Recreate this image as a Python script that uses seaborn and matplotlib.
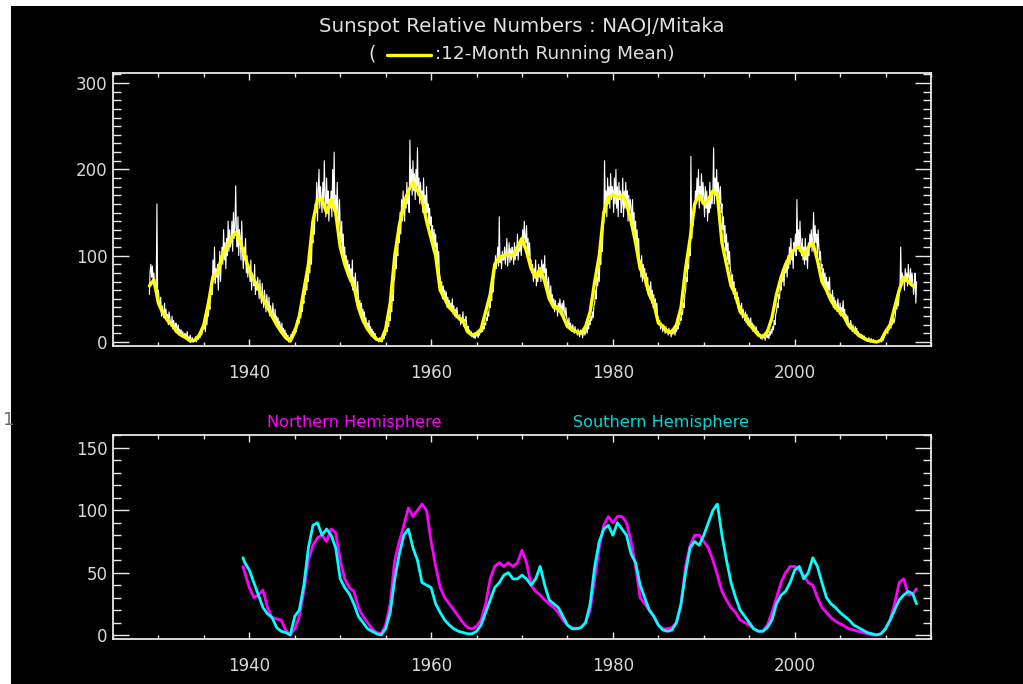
import numpy as np
import pandas as pd
import matplotlib
matplotlib.use("Agg")
import matplotlib.pyplot as plt
import seaborn as sns
from matplotlib.ticker import MultipleLocator
from matplotlib.patches import Rectangle

sns.set_style("dark")
plt.rcParams['font.family'] = ['DejaVu Sans']

# Monthly relative sunspot numbers (white), one row per year from 1929
monthly_start = 1929
monthly_rows = [
    [55, 82, 90, 75, 88, 68, 80, 62, 70, 58, 160, 48],
    [60, 45, 40, 52, 30, 42, 35, 28, 45, 30, 38, 25],
    [32, 20, 35, 28, 22, 18, 30, 15, 25, 20, 12, 22],
    [18, 12, 20, 8, 15, 10, 14, 6, 12, 9, 5, 10],
    [8, 5, 12, 3, 6, 2, 8, 4, 1, 5, 0, 3],
    [2, 6, 0, 4, 8, 3, 10, 5, 14, 8, 12, 18],
    [15, 22, 12, 28, 20, 35, 30, 45, 38, 60, 70, 55],
    [95, 72, 110, 68, 85, 75, 90, 60, 80, 105, 70, 95],
    [110, 90, 130, 95, 115, 85, 120, 100, 140, 105, 130, 110],
    [115, 140, 105, 150, 120, 135, 181, 125, 110, 145, 100, 130],
    [120, 95, 140, 105, 85, 110, 95, 120, 80, 100, 75, 90],
    [85, 70, 95, 60, 80, 75, 65, 90, 55, 70, 60, 75],
    [65, 50, 72, 55, 45, 68, 50, 40, 60, 48, 35, 55],
    [45, 38, 52, 30, 42, 35, 28, 45, 32, 25, 38, 22],
    [30, 20, 28, 15, 24, 18, 12, 22, 10, 16, 8, 14],
    [6, 10, 2, 8, 0, 5, 3, 9, 4, 12, 6, 15],
    [10, 18, 12, 25, 20, 30, 22, 38, 28, 45, 35, 52],
    [45, 62, 55, 75, 60, 85, 70, 95, 80, 110, 90, 120],
    [115, 140, 125, 160, 150, 185, 140, 175, 200, 155, 180, 165],
    [150, 185, 160, 210, 170, 145, 190, 160, 175, 140, 165, 155],
    [175, 145, 200, 160, 220, 150, 170, 140, 185, 150, 130, 165],
    [135, 115, 140, 100, 125, 95, 110, 85, 100, 80, 95, 75],
    [90, 70, 85, 65, 95, 60, 75, 55, 80, 60, 50, 70],
    [55, 40, 48, 35, 45, 30, 38, 25, 35, 20, 28, 18],
    [22, 15, 25, 12, 18, 10, 15, 8, 12, 5, 10, 4],
    [6, 2, 4, 0, 5, 1, 3, 0, 2, 6, 4, 10],
    [8, 15, 12, 22, 18, 30, 25, 42, 35, 55, 48, 70],
    [75, 95, 85, 110, 100, 130, 115, 150, 125, 165, 140, 175],
    [150, 140, 170, 155, 185, 160, 175, 150, 234, 180, 200, 170],
    [210, 175, 195, 165, 200, 180, 225, 170, 190, 160, 185, 165],
    [175, 150, 190, 160, 170, 140, 180, 150, 160, 130, 155, 135],
    [145, 120, 135, 105, 130, 110, 125, 95, 115, 90, 105, 80],
    [75, 60, 70, 50, 65, 55, 60, 45, 58, 40, 52, 45],
    [48, 38, 45, 35, 50, 32, 42, 30, 38, 28, 40, 32],
    [30, 25, 32, 20, 28, 22, 35, 18, 26, 24, 30, 20],
    [15, 18, 10, 14, 8, 12, 6, 10, 5, 9, 4, 8],
    [7, 12, 5, 10, 8, 14, 11, 16, 12, 18, 15, 22],
    [20, 28, 25, 35, 30, 45, 40, 55, 48, 65, 58, 75],
    [80, 100, 85, 95, 110, 88, 145, 92, 100, 85, 105, 95],
    [95, 110, 90, 105, 120, 88, 100, 115, 92, 108, 95, 110],
    [105, 90, 115, 95, 110, 100, 125, 95, 115, 105, 120, 100],
    [115, 130, 110, 140, 120, 115, 135, 105, 120, 100, 115, 95],
    [95, 80, 90, 70, 85, 75, 95, 65, 80, 70, 90, 75],
    [85, 70, 95, 75, 90, 80, 100, 65, 85, 70, 60, 75],
    [60, 50, 65, 45, 55, 40, 50, 35, 48, 38, 42, 30],
    [45, 35, 50, 40, 38, 45, 32, 48, 36, 30, 40, 28],
    [25, 20, 28, 15, 22, 18, 12, 20, 14, 10, 18, 12],
    [12, 8, 15, 10, 6, 14, 9, 12, 5, 10, 15, 8],
    [12, 18, 10, 22, 15, 25, 20, 30, 25, 35, 28, 42],
    [45, 60, 50, 75, 65, 85, 70, 100, 90, 115, 105, 130],
    [140, 210, 150, 175, 145, 190, 160, 180, 155, 195, 165, 180],
    [175, 150, 190, 160, 200, 155, 180, 145, 185, 165, 175, 150],
    [160, 190, 145, 175, 155, 185, 160, 175, 140, 170, 150, 165],
    [155, 135, 165, 125, 150, 115, 140, 110, 130, 100, 120, 95],
    [95, 75, 100, 70, 90, 80, 85, 65, 80, 60, 75, 55],
    [65, 50, 70, 45, 60, 40, 55, 38, 50, 35, 45, 30],
    [28, 20, 25, 15, 22, 18, 12, 20, 15, 10, 18, 12],
    [14, 8, 16, 10, 12, 6, 15, 9, 11, 14, 8, 16],
    [12, 18, 15, 22, 20, 28, 25, 35, 32, 45, 40, 55],
    [60, 75, 70, 90, 85, 110, 100, 215, 120, 140, 135, 160],
    [150, 175, 160, 190, 165, 200, 155, 180, 170, 195, 160, 185],
    [170, 145, 180, 155, 175, 140, 165, 150, 185, 155, 170, 160],
    [175, 225, 160, 190, 170, 200, 165, 185, 175, 160, 180, 150],
    [160, 130, 145, 115, 135, 105, 125, 95, 115, 90, 105, 85],
    [80, 65, 78, 55, 70, 50, 62, 45, 58, 40, 52, 38],
    [42, 32, 45, 28, 38, 30, 25, 35, 22, 32, 20, 28],
    [25, 18, 28, 15, 22, 12, 20, 16, 10, 18, 14, 10],
    [12, 6, 10, 4, 8, 3, 9, 5, 7, 2, 6, 10],
    [5, 9, 4, 12, 8, 15, 10, 18, 14, 25, 20, 32],
    [35, 45, 40, 55, 50, 65, 60, 75, 70, 85, 65, 90],
    [80, 95, 75, 100, 85, 110, 90, 120, 95, 105, 85, 115],
    [110, 125, 100, 165, 110, 130, 105, 140, 115, 100, 120, 95],
    [110, 90, 120, 95, 105, 85, 115, 100, 125, 110, 130, 105],
    [120, 150, 110, 135, 115, 125, 100, 130, 110, 95, 105, 85],
    [90, 70, 85, 65, 80, 60, 75, 55, 70, 60, 75, 50],
    [55, 45, 60, 40, 52, 38, 48, 42, 35, 50, 40, 32],
    [45, 30, 40, 35, 48, 28, 38, 25, 32, 20, 30, 22],
    [22, 15, 25, 18, 12, 20, 14, 10, 18, 12, 16, 8],
    [12, 6, 10, 5, 9, 4, 8, 3, 7, 2, 5, 4],
    [3, 1, 5, 2, 0, 4, 1, 0, 3, 1, 2, 0],
    [0, 1, 0, 2, 1, 3, 2, 0, 4, 2, 5, 8],
    [8, 15, 12, 10, 18, 14, 20, 16, 25, 20, 28, 22],
    [25, 32, 45, 38, 50, 42, 55, 60, 110, 65, 80, 70],
    [75, 60, 85, 70, 80, 65, 90, 75, 70, 85, 65, 80],
    [70, 55, 65, 80, 45, 70],
]

# 12-month running mean (yellow), half-year samples from 1929.0
mean_start = 1929.0
mean_vals = [65, 72, 45, 33, 25, 20, 12, 8, 5, 1, 2, 8, 20, 45, 76, 80, 100, 110, 120, 127,
             115, 100, 82, 72, 62, 50, 40, 30, 20, 12, 5, 1, 12, 30, 60, 90, 140, 165, 165, 150,
             165, 150, 110, 90, 75, 65, 40, 25, 15, 8, 3, 2, 15, 45, 100, 135, 160, 175, 185, 175,
             165, 140, 120, 100, 60, 50, 40, 35, 28, 25, 12, 8, 10, 15, 35, 55, 90, 98, 100, 102,
             100, 110, 120, 105, 85, 75, 85, 70, 50, 40, 40, 30, 18, 14, 12, 10, 18, 35, 70, 100,
             150, 168, 170, 168, 170, 160, 140, 115, 85, 75, 55, 45, 22, 18, 12, 12, 20, 40, 85, 120,
             160, 170, 160, 165, 175, 170, 115, 90, 65, 55, 35, 30, 20, 15, 8, 6, 12, 28, 55, 75,
             90, 100, 108, 110, 100, 110, 115, 95, 70, 60, 48, 40, 35, 28, 18, 14, 8, 5, 2, 1,
             0, 2, 12, 20, 40, 60, 75, 70, 65]

# Hemispheric values, half-year samples from 1939.5 (first point 1939.3, last 2013.4)
hemi_first = 1939.3
hemi_start = 1939.5
hemi_last = 2013.4
north_vals = [55, 50, 38, 30, 32, 36, 22, 14, 13, 12, 4, 0, 5, 15, 35, 60, 72, 78, 80, 75, 85,
              82, 60, 45, 38, 35, 22, 15, 10, 5, 2, 1, 8, 25, 60, 75, 88, 102, 95, 100, 105,
              100, 75, 55, 38, 30, 25, 20, 15, 10, 6, 5, 7, 12, 25, 45, 55, 58, 55, 58, 55,
              58, 68, 58, 40, 35, 32, 28, 25, 22, 18, 12, 8, 6, 5, 6, 10, 20, 45, 70, 88,
              95, 90, 95, 95, 90, 75, 55, 30, 25, 20, 15, 8, 5, 5, 6, 10, 25, 55, 72, 80,
              80, 75, 70, 60, 48, 35, 28, 22, 18, 12, 10, 8, 5, 3, 3, 8, 18, 30, 42, 50,
              55, 55, 52, 48, 42, 40, 30, 22, 18, 14, 11, 9, 7, 5, 4, 3, 2, 1, 0, 0,
              1, 5, 12, 25, 42, 45, 32, 33, 37]
south_vals = [62, 58, 52, 42, 32, 22, 17, 14, 6, 3, 2, 0, 15, 20, 40, 70, 88, 90, 80, 85, 80,
              70, 45, 38, 33, 25, 15, 10, 5, 3, 1, 0, 5, 18, 45, 65, 80, 85, 70, 60, 42,
              40, 38, 25, 18, 12, 8, 5, 3, 2, 1, 1, 3, 8, 18, 28, 38, 42, 48, 50, 45,
              45, 48, 45, 40, 45, 55, 40, 28, 25, 22, 15, 8, 5, 5, 6, 10, 25, 55, 75, 85,
              88, 80, 90, 85, 80, 65, 58, 40, 30, 20, 15, 8, 4, 3, 4, 10, 25, 50, 70, 75,
              72, 80, 90, 100, 105, 80, 60, 42, 30, 20, 15, 10, 5, 3, 3, 6, 12, 25, 32, 35,
              42, 52, 55, 45, 50, 62, 55, 42, 30, 25, 22, 18, 15, 12, 8, 6, 4, 2, 1, 0,
              1, 5, 12, 20, 28, 32, 35, 33, 25]

title_text = "Sunspot Relative Numbers : NAOJ/Mitaka"
mean_label = ":12-Month Running Mean)"
north_label = "Northern Hemisphere"
south_label = "Southern Hemisphere"
year_ticks = [1940, 1960, 1980, 2000]

W, H = 1023, 684
fig = plt.figure(figsize=(W / 100, H / 100), dpi=100, facecolor="white")
fig.patches.append(Rectangle((11 / W, 0), 1 - 11 / W, 1 - 6 / H, transform=fig.transFigure,
                             facecolor="black", edgecolor="none", zorder=-10))

def px_axes(l, t, r, b):
    return fig.add_axes([l / W, 1 - b / H, (r - l) / W, (b - t) / H])

ax1 = px_axes(113, 73, 931, 346)
ax2 = px_axes(113, 435, 931, 639)

fg = "#e8e8e8"

# top panel
monthly_vals = [v for row in monthly_rows for v in row]
monthly_t = monthly_start + np.arange(len(monthly_vals)) / 12.0
df_month = pd.DataFrame({"t": monthly_t, "v": monthly_vals})
sns.lineplot(data=df_month, x="t", y="v", ax=ax1, color="white", linewidth=0.8)
mean_t = mean_start + 0.5 * np.arange(len(mean_vals))
df_mean = pd.DataFrame({"t": mean_t, "v": mean_vals})
sns.lineplot(data=df_mean, x="t", y="v", ax=ax1, color="#ffff00", linewidth=2.4)
ax1.set_ylim(-4.6, 311.6)
ax1.yaxis.set_major_locator(MultipleLocator(100))
ax1.yaxis.set_minor_locator(MultipleLocator(10))

# bottom panel
hemi_t = np.concatenate([[hemi_first], hemi_start + 0.5 * np.arange(len(north_vals) - 2), [hemi_last]])
df_h = pd.DataFrame({"t": hemi_t, "north": north_vals, "south": south_vals})
sns.lineplot(data=df_h, x="t", y="north", ax=ax2, color="#ff00ff", linewidth=2)
sns.lineplot(data=df_h, x="t", y="south", ax=ax2, color="#00ffff", linewidth=2)
ax2.set_ylim(-3.2, 160.4)
ax2.yaxis.set_major_locator(MultipleLocator(50))
ax2.yaxis.set_minor_locator(MultipleLocator(10))

for ax in (ax1, ax2):
    ax.set_facecolor("black")
    ax.grid(False)
    for s in ax.spines.values():
        s.set_color(fg)
        s.set_linewidth(1.3)
    ax.set_xlim(1925, 2015)
    ax.xaxis.set_major_locator(MultipleLocator(20))
    ax.xaxis.set_minor_locator(MultipleLocator(5))
    ax.set_xticks(year_ticks)
    ax.tick_params(axis="both", which="both", direction="in", colors=fg,
                   top=True, right=True, bottom=True, left=True, labelsize=12,
                   labelcolor="#d8d8d8")
    ax.tick_params(axis="x", which="major", length=5, width=1, pad=13)
    ax.tick_params(axis="x", which="minor", length=3, width=1)
    ax.tick_params(axis="y", which="major", length=11.5, width=1, pad=4)
    ax.tick_params(axis="y", which="minor", length=5.8, width=1)
    ax.set_xlabel("")
    ax.set_ylabel("")

# texts
fig.text(522 / W, 1 - 26 / H, title_text, ha="center", va="center", color="#e0e0e0", fontsize=14.3)
fig.text(372 / W, 1 - 54 / H, "(", ha="center", va="center", color="#e0e0e0", fontsize=13.5)
fig.lines.append(plt.Line2D([387 / W, 431 / W], [1 - 55 / H, 1 - 55 / H], transform=fig.transFigure,
                            color="#ffff00", linewidth=2.4))
fig.text(435 / W, 1 - 54 / H, mean_label, ha="left", va="center", color="#e0e0e0", fontsize=13.3)
fig.text(267 / W, 1 - 423 / H, north_label, ha="left", va="center", color="#ff00ff", fontsize=11.6)
fig.text(573 / W, 1 - 423 / H, south_label, ha="left", va="center", color="#00d8d8", fontsize=11.6)
fig.text(3 / W, 1 - 420 / H, "1", ha="left", va="center", color="#707070", fontsize=13)

fig.savefig("out.png", dpi=100, facecolor="white")
